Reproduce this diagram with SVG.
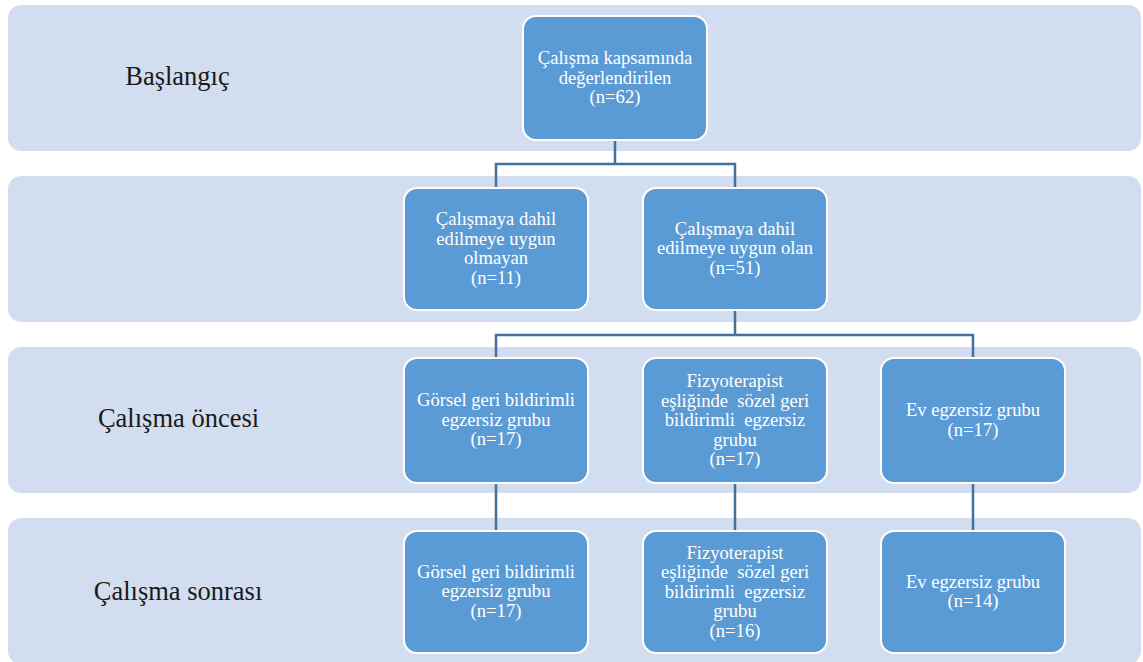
<svg xmlns="http://www.w3.org/2000/svg" width="1143" height="662" viewBox="0 0 1143 662">
<style>
.band{fill:#D2DEEF;}
.node{fill:#5B9BD5;stroke:#FFFFFF;stroke-width:2;}
.lbl{font-family:"Liberation Serif","Times New Roman",serif;font-size:26.5px;fill:#1A1A1A;text-anchor:middle;}
.nt{font-family:"Liberation Serif","Times New Roman",serif;font-size:18.6px;fill:#FFFFFF;text-anchor:middle;white-space:pre;}
.conn{fill:none;stroke:#41719C;stroke-width:2.5;}
</style>
<g id="bands">
<rect class="band" x="8" y="5" width="1133" height="146" rx="13"/>
<rect class="band" x="8" y="176" width="1133" height="146" rx="13"/>
<rect class="band" x="8" y="347" width="1133" height="146" rx="13"/>
<rect class="band" x="8" y="518" width="1133" height="146" rx="13"/>
<text class="lbl" x="177.5" y="85">Başlangıç</text>
<text class="lbl" x="178.5" y="427">Çalışma öncesi</text>
<text class="lbl" x="178" y="600">Çalışma sonrası</text>
</g>
<g id="connectors">
<path class="conn" d="M615,140 V164 M496,188 V164 H735 V188"/>
<path class="conn" d="M735,310 V335 M496,358 V335 H973 V358"/>
<path class="conn" d="M496,483 V531 M735,483 V531 M973,483 V531"/>
</g>
<g id="n-top">
<rect class="node" x="523" y="16" width="184" height="124" rx="13"/>
<text class="nt" x="615" y="64">Çalışma kapsamında</text>
<text class="nt" x="615" y="83.5">değerlendirilen</text>
<text class="nt" x="615" y="103">(n=62)</text>
</g>
<g id="n-exc">
<rect class="node" x="404" y="188" width="184" height="122" rx="13"/>
<text class="nt" x="496" y="225">Çalışmaya dahil</text>
<text class="nt" x="496" y="244.5">edilmeye uygun</text>
<text class="nt" x="496" y="264">olmayan</text>
<text class="nt" x="496" y="283.5">(n=11)</text>
</g>
<g id="n-inc">
<rect class="node" x="643" y="188" width="184" height="122" rx="13"/>
<text class="nt" x="735" y="234.5">Çalışmaya dahil</text>
<text class="nt" x="735" y="254">edilmeye uygun olan</text>
<text class="nt" x="735" y="273.5">(n=51)</text>
</g>
<g id="n-pre-visual">
<rect class="node" x="404" y="358" width="184" height="125" rx="13"/>
<text class="nt" x="496" y="406">Görsel geri bildirimli</text>
<text class="nt" x="496" y="425.5">egzersiz grubu</text>
<text class="nt" x="496" y="445">(n=17)</text>
</g>
<g id="n-pre-verbal">
<rect class="node" x="643" y="358" width="184" height="125" rx="13"/>
<text class="nt" x="735" y="387">Fizyoterapist</text>
<text class="nt" x="735" y="406.5" xml:space="preserve">eşliğinde  sözel geri</text>
<text class="nt" x="735" y="426" xml:space="preserve">bildirimli  egzersiz</text>
<text class="nt" x="735" y="445.5">grubu</text>
<text class="nt" x="735" y="465">(n=17)</text>
</g>
<g id="n-pre-home">
<rect class="node" x="881" y="358" width="184" height="125" rx="13"/>
<text class="nt" x="973" y="416">Ev egzersiz grubu</text>
<text class="nt" x="973" y="435.5">(n=17)</text>
</g>
<g id="n-post-visual">
<rect class="node" x="404" y="531" width="184" height="122" rx="13"/>
<text class="nt" x="496" y="577.5">Görsel geri bildirimli</text>
<text class="nt" x="496" y="597">egzersiz grubu</text>
<text class="nt" x="496" y="616.5">(n=17)</text>
</g>
<g id="n-post-verbal">
<rect class="node" x="643" y="531" width="184" height="122" rx="13"/>
<text class="nt" x="735" y="558.5">Fizyoterapist</text>
<text class="nt" x="735" y="578" xml:space="preserve">eşliğinde  sözel geri</text>
<text class="nt" x="735" y="597.5" xml:space="preserve">bildirimli  egzersiz</text>
<text class="nt" x="735" y="617">grubu</text>
<text class="nt" x="735" y="636.5">(n=16)</text>
</g>
<g id="n-post-home">
<rect class="node" x="881" y="531" width="184" height="122" rx="13"/>
<text class="nt" x="973" y="587.5">Ev egzersiz grubu</text>
<text class="nt" x="973" y="607">(n=14)</text>
</g>
</svg>
